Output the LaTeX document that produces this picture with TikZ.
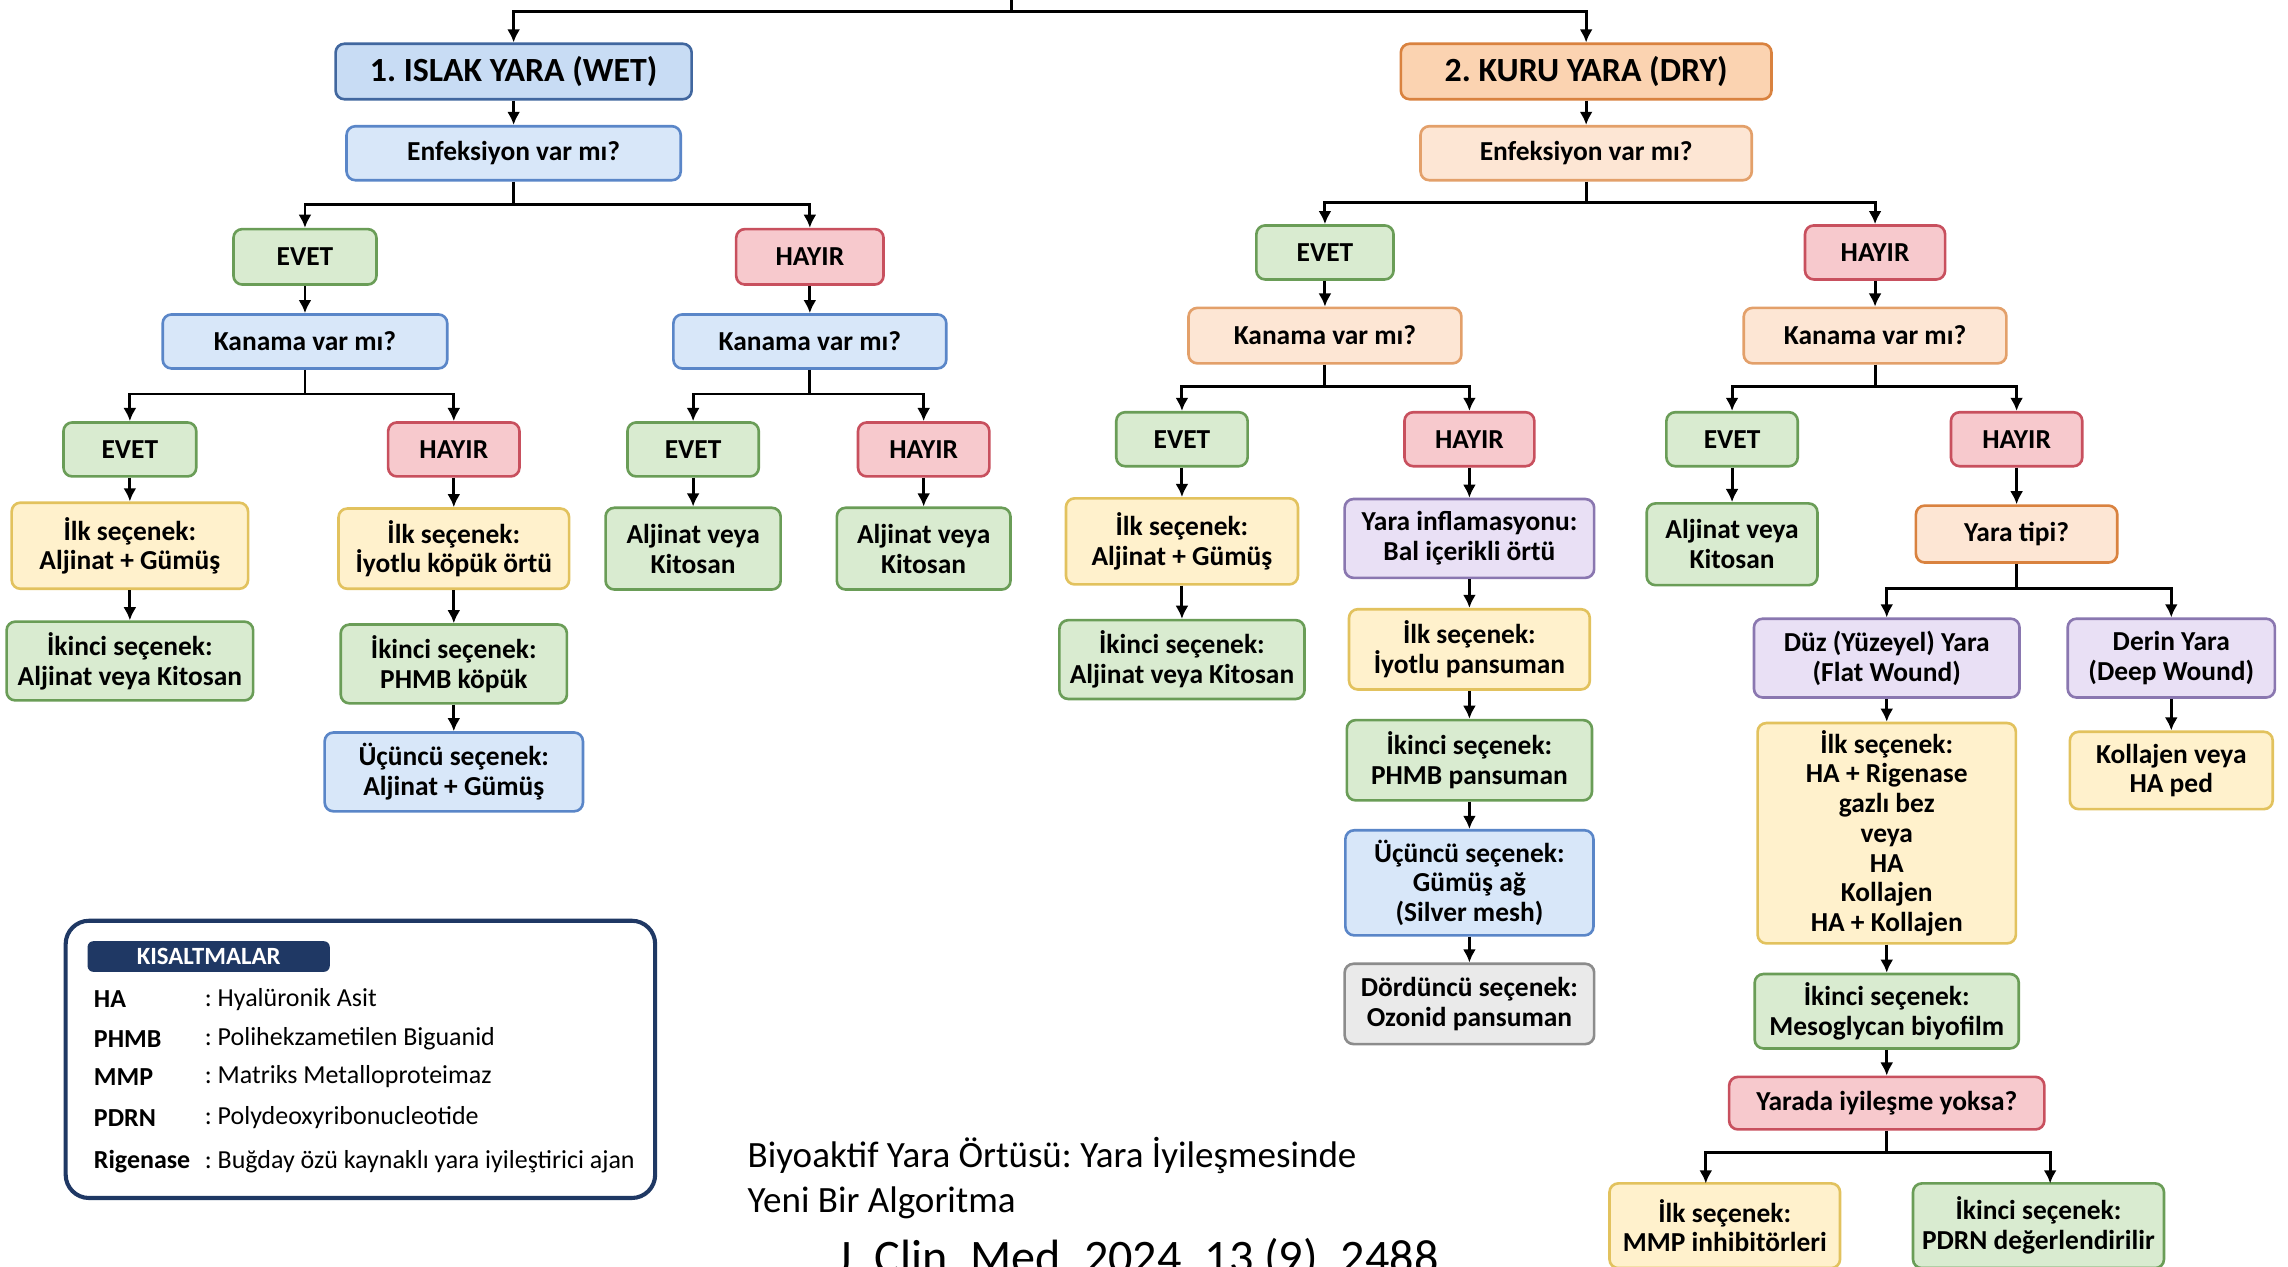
\documentclass[tikz,border=0pt]{standalone}
\usepackage{fontspec}
\setmainfont{Carlito}
\usetikzlibrary{arrows.meta}
\definecolor{blueF}{HTML}{D8E7F9}
\definecolor{blueD}{HTML}{5A86C8}
\definecolor{blueTF}{HTML}{C8DCF4}
\definecolor{blueTD}{HTML}{41679F}
\definecolor{greenF}{HTML}{D9EBD0}
\definecolor{greenD}{HTML}{6A9D57}
\definecolor{redF}{HTML}{F7C9CD}
\definecolor{redD}{HTML}{C8505E}
\definecolor{yelF}{HTML}{FFF1CC}
\definecolor{yelD}{HTML}{E2C25E}
\definecolor{peachF}{HTML}{FDE6D4}
\definecolor{peachD}{HTML}{E3A06A}
\definecolor{orgF}{HTML}{FBD3B1}
\definecolor{orgD}{HTML}{D9823F}
\definecolor{purF}{HTML}{E9E0F5}
\definecolor{purD}{HTML}{8A77B0}
\definecolor{grayF}{HTML}{EAEAEA}
\definecolor{grayD}{HTML}{8C8C8C}
\definecolor{navy}{HTML}{1F3864}
\tikzset{
  bx/.style={draw, rounded corners=3pt, line width=0.9pt, inner sep=1pt, align=center,
    font=\bfseries\fontsize{9.4}{10.2}\selectfont},
  ttl/.style={bx, font=\bfseries\fontsize{11.6}{12}\selectfont},
  cblue/.style={fill=blueF, draw=blueD},
  cblueT/.style={fill=blueTF, draw=blueTD},
  cgreen/.style={fill=greenF, draw=greenD},
  cred/.style={fill=redF, draw=redD},
  cyel/.style={fill=yelF, draw=yelD},
  cpeach/.style={fill=peachF, draw=peachD},
  cpeachO/.style={fill=peachF, draw=orgD},
  corgT/.style={fill=orgF, draw=orgD},
  cpur/.style={fill=purF, draw=purD},
  cgray/.style={fill=grayF, draw=grayD},
  ln/.style={line width=1pt, black},
  arr/.style={line width=1pt, black, -{Latex[length=4.5pt,width=4.5pt]}},
  abbr/.style={anchor=west, inner sep=0pt, font=\bfseries\fontsize{8.9}{9}\selectfont},
  desc/.style={anchor=west, inner sep=0pt, font=\fontsize{8.9}{9}\selectfont},
  captxt/.style={anchor=base west, inner sep=0pt, font=\fontsize{12.7}{13}\selectfont}
}
\frenchspacing
\begin{document}
\begin{tikzpicture}[x=0.5pt,y=-0.5pt]
\fill[white] (0,0) rectangle (1568,868);
\useasboundingbox (0,0) rectangle (1568,868);

% ---------- left branch ----------
\node[ttl,cblueT,minimum width=122pt,minimum height=19pt] (wet) at (352,49) {1. ISLAK YARA (WET)};
\node[bx,cblue,minimum width=114.5pt,minimum height=18.5pt] (enfA) at (352,105) {Enfeksiyon var mı?};
\node[bx,cgreen,minimum width=49pt,minimum height=19pt] (evA) at (209,176) {EVET};
\node[bx,cred,minimum width=50.5pt,minimum height=19pt] (hyA) at (555,176) {HAYIR};
\node[bx,cblue,minimum width=97.5pt,minimum height=18.5pt] (kanA) at (209,234) {Kanama var mı?};
\node[bx,cblue,minimum width=93.5pt,minimum height=18.5pt] (kanB) at (555,234) {Kanama var mı?};
\node[bx,cgreen,minimum width=45.5pt,minimum height=18.5pt] (evAA) at (89,308) {EVET};
\node[bx,cred,minimum width=45pt,minimum height=18.5pt] (hyAA) at (311,308) {HAYIR};
\node[bx,cgreen,minimum width=45pt,minimum height=18.5pt] (evAB) at (475,308) {EVET};
\node[bx,cred,minimum width=45pt,minimum height=18.5pt] (hyAB) at (633,308) {HAYIR};
\node[bx,cyel,minimum width=81pt,minimum height=29.5pt] (ilkA) at (89,374) {İlk seçenek:\\Aljinat + Gümüş};
\node[bx,cgreen,minimum width=84.5pt,minimum height=27pt] (ikiA) at (89,453) {İkinci seçenek:\\Aljinat veya Kitosan};
\node[bx,cyel,minimum width=79pt,minimum height=27.5pt] (ilkB) at (311,376) {İlk seçenek:\\İyotlu köpük örtü};
\node[bx,cgreen,minimum width=77.5pt,minimum height=27pt] (ikiB) at (311,455) {İkinci seçenek:\\PHMB köpük};
\node[bx,cblue,minimum width=88.5pt,minimum height=27pt] (ucA) at (311,529) {Üçüncü seçenek:\\Aljinat + Gümüş};
\node[bx,cgreen,minimum width=60pt,minimum height=28pt] (aljA) at (475,376) {Aljinat veya\\Kitosan};
\node[bx,cgreen,minimum width=59.5pt,minimum height=28pt] (aljB) at (633,376) {Aljinat veya\\Kitosan};

% ---------- right branch ----------
\node[ttl,corgT,minimum width=127pt,minimum height=19pt] (dry) at (1087,49) {2. KURU YARA (DRY)};
\node[bx,cpeach,minimum width=113.5pt,minimum height=18.5pt] (enfB) at (1087,105) {Enfeksiyon var mı?};
\node[bx,cgreen,minimum width=47pt,minimum height=18.5pt] (evB) at (908,173) {EVET};
\node[bx,cred,minimum width=48pt,minimum height=18.5pt] (hyB) at (1285,173) {HAYIR};
\node[bx,cpeach,minimum width=93.5pt,minimum height=19pt] (kanC) at (908,230) {Kanama var mı?};
\node[bx,cpeach,minimum width=90pt,minimum height=19pt] (kanD) at (1285,230) {Kanama var mı?};
\node[bx,cgreen,minimum width=45pt,minimum height=18.5pt] (evBA) at (810,301) {EVET};
\node[bx,cred,minimum width=44.5pt,minimum height=18.5pt] (hyBA) at (1007,301) {HAYIR};
\node[bx,cgreen,minimum width=45pt,minimum height=18.5pt] (evBB) at (1187,301) {EVET};
\node[bx,cred,minimum width=45pt,minimum height=18.5pt] (hyBB) at (1382,301) {HAYIR};
\node[bx,cyel,minimum width=79.5pt,minimum height=29.5pt] (ilkC) at (810,371) {İlk seçenek:\\Aljinat + Gümüş};
\node[bx,cgreen,minimum width=84pt,minimum height=27pt] (ikiC) at (810,452) {İkinci seçenek:\\Aljinat veya Kitosan};
\node[bx,cpur,minimum width=85.5pt,minimum height=27pt] (infl) at (1007,369) {Yara inflamasyonu:\\Bal içerikli örtü};
\node[bx,cyel,minimum width=82.5pt,minimum height=27.5pt] (ilkD) at (1007,445) {İlk seçenek:\\İyotlu pansuman};
\node[bx,cgreen,minimum width=84pt,minimum height=27.5pt] (ikiD) at (1007,521) {İkinci seçenek:\\PHMB pansuman};
\node[bx,cblue,minimum width=85pt,minimum height=36pt] (ucB) at (1007,605) {Üçüncü seçenek:\\Gümüş ağ\\(Silver mesh)};
\node[bx,cgray,minimum width=85.5pt,minimum height=27.5pt] (dord) at (1007,688) {Dördüncü seçenek:\\Ozonid pansuman};
\node[bx,cgreen,minimum width=58.5pt,minimum height=28pt] (aljC) at (1187,373) {Aljinat veya\\Kitosan};
\node[bx,cpeachO,minimum width=69pt,minimum height=19.5pt] (tipi) at (1382,366) {Yara tipi?};
\node[bx,cpur,minimum width=91pt,minimum height=27pt] (duz) at (1293,451) {Düz (Yüzeyel) Yara\\(Flat Wound)};
\node[bx,cpur,minimum width=71pt,minimum height=27pt] (derin) at (1488,451) {Derin Yara\\(Deep Wound)};
\node[bx,cyel,minimum width=88.5pt,minimum height=75.5pt] (ilkE) at (1293,571) {İlk seçenek:\\HA + Rigenase\\gazlı bez\\veya\\HA\\Kollajen\\HA + Kollajen};
\node[bx,cyel,minimum width=69.5pt,minimum height=26.5pt] (kolE) at (1488,528) {Kollajen veya\\HA ped};
\node[bx,cgreen,minimum width=90.5pt,minimum height=25.5pt] (ikiE) at (1293,693) {İkinci seçenek:\\Mesoglycan biyofilm};
\node[bx,cred,minimum width=108pt,minimum height=18pt] (yar) at (1293,756) {Yarada iyileşme yoksa?};
\node[bx,cyel,minimum width=79pt,minimum height=29pt] (mmp) at (1182,840) {İlk seçenek:\\MMP inhibitörleri};
\node[bx,cgreen,minimum width=86pt,minimum height=29pt] (pdrn) at (1397,840) {İkinci seçenek:\\PDRN değerlendirilir};

% ---------- connectors ----------
\coordinate (tj) at (693,8);
\coordinate (tin) at (693,-4);
\draw[ln] (tin) -- (tj);
\draw[arr] (tj) -| (wet.north);
\draw[arr] (tj) -| (dry.north);

\foreach \a/\b in {wet/enfA, evA/kanA, hyA/kanB, evAA/ilkA, ilkA/ikiA,
  hyAA/ilkB, ilkB/ikiB, ikiB/ucA, evAB/aljA, hyAB/aljB,
  dry/enfB, evB/kanC, hyB/kanD, evBA/ilkC, ilkC/ikiC,
  hyBA/infl, infl/ilkD, ilkD/ikiD, ikiD/ucB, ucB/dord,
  evBB/aljC, hyBB/tipi, duz/ilkE, ilkE/ikiE, ikiE/yar, derin/kolE}
  \draw[arr] (\a.south) -- (\b.north);

\coordinate (jA) at (352,140);
\draw[ln] (enfA.south) -- (jA);
\draw[arr] (jA) -| (evA.north);
\draw[arr] (jA) -| (hyA.north);

\coordinate (jKA) at (209,270);
\draw[ln] (kanA.south) -- (jKA);
\draw[arr] (jKA) -| (evAA.north);
\draw[arr] (jKA) -| (hyAA.north);

\coordinate (jKB) at (555,270);
\draw[ln] (kanB.south) -- (jKB);
\draw[arr] (jKB) -| (evAB.north);
\draw[arr] (jKB) -| (hyAB.north);

\coordinate (jB) at (1087,139);
\draw[ln] (enfB.south) -- (jB);
\draw[arr] (jB) -| (evB.north);
\draw[arr] (jB) -| (hyB.north);

\coordinate (jKC) at (908,265);
\draw[ln] (kanC.south) -- (jKC);
\draw[arr] (jKC) -| (evBA.north);
\draw[arr] (jKC) -| (hyBA.north);

\coordinate (jKD) at (1285,265);
\draw[ln] (kanD.south) -- (jKD);
\draw[arr] (jKD) -| (evBB.north);
\draw[arr] (jKD) -| (hyBB.north);

\coordinate (jT) at (1382,403);
\draw[ln] (tipi.south) -- (jT);
\draw[arr] (jT) -| (duz.north);
\draw[arr] (jT) -| (derin.north);

\coordinate (jY) at (1293,790);
\coordinate (mmpIn) at (1169,811);
\coordinate (pdrnIn) at (1405,811);
\draw[ln] (yar.south) -- (jY);
\draw[arr] (jY) -| (mmpIn);
\draw[arr] (jY) -| (pdrnIn);

% ---------- legend ----------
\node[draw=navy, line width=1.4pt, rounded corners=8pt, fill=white,
  minimum width=202pt, minimum height=95pt] (leg) at (247,726) {};
\node[fill=navy, rounded corners=2pt, text=white, inner sep=0pt,
  font=\bfseries\fontsize{8.5}{9}\selectfont,
  minimum width=83pt, minimum height=10.5pt] (legt) at (143,655.5) {KISALTMALAR};
\node[abbr] (abHA) at (64,685) {HA};
\node[desc] (dsHA) at (140,685) {: Hyalüronik Asit};
\node[abbr] (abPH) at (64,712) {PHMB};
\node[desc] (dsPH) at (140,712) {: Polihekzametilen Biguanid};
\node[abbr] (abMM) at (64,738) {MMP};
\node[desc] (dsMM) at (140,738) {: Matriks Metalloproteimaz};
\node[abbr] (abPD) at (64,766) {PDRN};
\node[desc] (dsPD) at (140,766) {: Polydeoxyribonucleotide};
\node[abbr] (abRG) at (64,796) {Rigenase};
\node[desc] (dsRG) at (140,796) {: Buğday özü kaynaklı yara iyileştirici ajan};

% ---------- caption ----------
\node[captxt] (cap1) at (512,800) {Biyoaktif Yara Örtüsü: Yara İyileşmesinde};
\node[captxt] (cap2) at (512,831) {Yeni Bir Algoritma};
\node[captxt, font=\fontsize{16.5}{17}\selectfont] (cap3) at (573,873) {J. Clin. Med. 2024, 13 (9), 2488};
\end{tikzpicture}
\end{document}
